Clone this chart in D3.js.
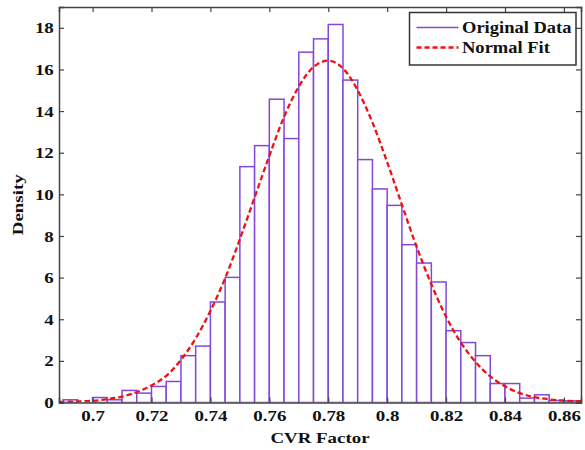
<!DOCTYPE html>
<html>
<head>
<meta charset="utf-8">
<script src="https://cdn.jsdelivr.net/npm/d3@7"></script>
<style>
  html, body { margin: 0; padding: 0; background: #fff; }
  svg { display: block; }
  text { font-family: "Liberation Serif", "Times New Roman", serif; font-weight: bold; fill: #111; }
</style>
</head>
<body>
<svg id="chart" width="585" height="450"></svg>
<script>
// ---- data ----
const binStarts = [0.690, 0.695, 0.700, 0.705, 0.710, 0.715, 0.720, 0.725, 0.730, 0.735,
                   0.740, 0.745, 0.750, 0.755, 0.760, 0.765, 0.770, 0.775, 0.780, 0.785,
                   0.790, 0.795, 0.800, 0.805, 0.810, 0.815, 0.820, 0.825, 0.830, 0.835,
                   0.840, 0.845, 0.850, 0.855, 0.860];
const binWidth = 0.005;
const densities = [0.13, 0.00, 0.24, 0.13, 0.58, 0.45, 0.77, 1.01, 2.25, 2.71,
                   4.83, 6.01, 11.33, 12.34, 14.57, 12.68, 16.83, 17.47, 18.16, 15.49,
                   11.67, 10.26, 9.47, 7.58, 6.70, 5.79, 3.45, 2.88, 2.25, 0.91,
                   0.91, 0.21, 0.37, 0.10, 0.08];
const fitX = [0.6886, 0.695, 0.700, 0.705, 0.710, 0.715, 0.720, 0.725, 0.730, 0.735,
              0.740, 0.745, 0.750, 0.755, 0.760, 0.765, 0.770, 0.775, 0.780, 0.785,
              0.790, 0.795, 0.800, 0.805, 0.810, 0.815, 0.820, 0.825, 0.830, 0.835,
              0.840, 0.845, 0.850, 0.855, 0.860, 0.8658];
const fitY = [0.03, 0.05, 0.08, 0.16, 0.28, 0.50, 0.82, 1.28, 2.05, 3.08,
              4.40, 5.97, 7.85, 9.85, 11.85, 13.72, 15.18, 16.12, 16.42, 16.05,
              15.00, 13.45, 11.55, 9.50, 7.48, 5.68, 4.12, 2.88, 1.95, 1.25,
              0.78, 0.45, 0.26, 0.15, 0.09, 0.06];
const xTicks = [0.70, 0.72, 0.74, 0.76, 0.78, 0.80, 0.82, 0.84, 0.86];
const xTickLabels = ["0.7", "0.72", "0.74", "0.76", "0.78", "0.8", "0.82", "0.84", "0.86"];
const yTicks = [0, 2, 4, 6, 8, 10, 12, 14, 16, 18];
const yTickLabels = ["0", "2", "4", "6", "8", "10", "12", "14", "16", "18"];
const xDomain = [0.6886, 0.8658];
const yDomain = [0, 19];
const legendLabels = ["Original Data", "Normal Fit"];
const xTitle = "CVR Factor";
const yTitle = "Density";

// ---- layout ----
const W = 585, H = 450;
const m = { left: 59, right: 4, top: 7, bottom: 47.5 };
const pw = W - m.left - m.right, ph = H - m.top - m.bottom;
const barColor = "#8448d8";
const fitColor = "#ee1111";
const axisColor = "#444";
const sx = 1.22; // horizontal stretch of the bold serif text

const svg = d3.select("#chart");
const g = svg.append("g").attr("transform", `translate(${m.left},${m.top})`);

const x = d3.scaleLinear().domain(xDomain).range([0, pw]);
const y = d3.scaleLinear().domain(yDomain).range([ph, 0]);

svg.append("defs").append("clipPath").attr("id", "clip")
  .append("rect").attr("width", pw).attr("height", ph);

const plot = g.append("g").attr("clip-path", "url(#clip)");

// bars
const bins = binStarts.map((s, i) => ({ x0: s, x1: s + binWidth, v: densities[i] }));
plot.selectAll("rect.bar").data(bins.filter(d => d.v > 0)).join("rect")
  .attr("class", "bar")
  .attr("x", d => x(d.x0))
  .attr("width", d => x(d.x1) - x(d.x0))
  .attr("y", d => y(d.v))
  .attr("height", d => y(0) - y(d.v))
  .attr("fill", "#fff")
  .attr("stroke", barColor)
  .attr("stroke-width", 1.5);

// fit curve
const fitPts = fitX.map((v, i) => [v, fitY[i]]);
plot.append("path")
  .datum(fitPts)
  .attr("fill", "none")
  .attr("stroke", fitColor)
  .attr("stroke-width", 2.3)
  .attr("stroke-dasharray", "5.5,3")
  .attr("d", d3.line().x(d => x(d[0])).y(d => y(d[1])).curve(d3.curveMonotoneX));

// axes (ticks inward on all four sides)
const tickLen = 5;
const axB = g.append("g").attr("transform", `translate(0,${ph})`)
  .call(d3.axisBottom(x).tickValues(xTicks).tickSize(-tickLen).tickFormat((d, i) => xTickLabels[i]));
const axT = g.append("g")
  .call(d3.axisTop(x).tickValues(xTicks).tickSize(-tickLen).tickFormat(""));
const axL = g.append("g")
  .call(d3.axisLeft(y).tickValues(yTicks).tickSize(-tickLen).tickFormat((d, i) => yTickLabels[i]));
const axR = g.append("g").attr("transform", `translate(${pw},0)`)
  .call(d3.axisRight(y).tickValues(yTicks).tickSize(-tickLen).tickFormat(""));

[axB, axT, axL, axR].forEach(a => {
  a.select(".domain").attr("stroke", axisColor).attr("stroke-width", 1.5);
  a.selectAll(".tick line").attr("stroke", axisColor).attr("stroke-width", 1.2);
});
axB.selectAll(".tick text")
  .attr("y", 19).attr("dy", 0)
  .attr("transform", `scale(${sx},1)`)
  .style("font-size", "15.5px").style("font-family", "'Liberation Serif', serif")
  .style("font-weight", "bold").attr("fill", "#111");
axL.selectAll(".tick text")
  .attr("x", -5.2 / sx).attr("dy", "0.33em")
  .attr("transform", `scale(${sx},1)`)
  .style("font-size", "15.5px").style("font-family", "'Liberation Serif', serif")
  .style("font-weight", "bold").attr("fill", "#111");

// axis titles
svg.append("text")
  .attr("transform", `translate(${m.left + pw / 2},442.5) scale(${sx},1)`)
  .attr("text-anchor", "middle")
  .style("font-size", "15.5px")
  .text(xTitle);
svg.append("text")
  .attr("transform", `translate(23,${m.top + ph / 2}) rotate(-90) scale(${sx},1)`)
  .attr("text-anchor", "middle")
  .style("font-size", "15.5px")
  .text(yTitle);

// legend
const lg = svg.append("g");
lg.append("rect")
  .attr("x", 409.5).attr("y", 12.5).attr("width", 166.5).attr("height", 52.5)
  .attr("fill", "#fff").attr("stroke", "#333").attr("stroke-width", 1.5);
const rows = [
  { label: legendLabels[0], color: barColor, dash: null, w: 1.5, cy: 27.5 },
  { label: legendLabels[1], color: fitColor, dash: "5,3", w: 2.3, cy: 47.5 }
];
rows.forEach(r => {
  lg.append("line")
    .attr("x1", 416.5).attr("x2", 458.5).attr("y1", r.cy).attr("y2", r.cy)
    .attr("stroke", r.color).attr("stroke-width", r.w)
    .attr("stroke-dasharray", r.dash);
  lg.append("text")
    .attr("transform", `translate(462,${r.cy + 5.8}) scale(1.09,1)`)
    .style("font-size", "17px")
    .text(r.label);
});
</script>
</body>
</html>
